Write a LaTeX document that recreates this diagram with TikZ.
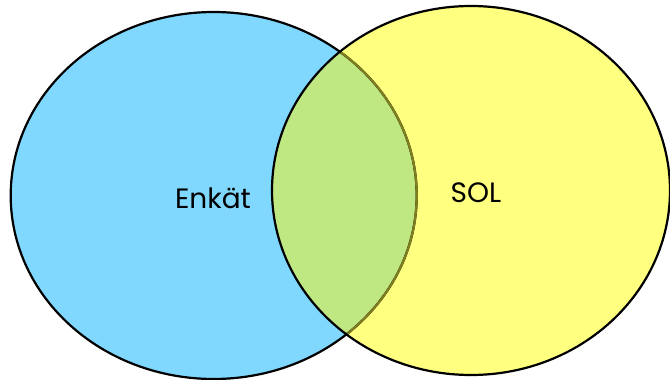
\documentclass[tikz,border=0pt]{standalone}
\usepackage{fontspec}
\setmainfont{Poppins}
\definecolor{setblue}{HTML}{80D8FF}
\definecolor{setyellow}{HTML}{FFFF80}
\definecolor{setboth}{HTML}{C0E882}
\definecolor{olive}{HTML}{7F7F20}
\begin{document}
\begin{tikzpicture}[x=1pt,y=-1pt,
  outline/.style={line width=2.2pt},
  lbl/.style={font=\fontsize{28}{32}\selectfont, text=black, inner sep=0pt, anchor=base}]
\useasboundingbox (0,0) rectangle (670,380);
\fill[white] (0,0) rectangle (670,380);
% fills
\fill[setblue] (213.7,195.5) ellipse [x radius=203, y radius=183.5];
\fill[setyellow] (471,190.5) ellipse [x radius=199, y radius=184.5];
\begin{scope}
  \clip (213.7,195.5) ellipse [x radius=203, y radius=183.5];
  \fill[setboth] (471,190.5) ellipse [x radius=199, y radius=184.5];
\end{scope}
% outlines
\draw[outline] (213.7,195.5) ellipse [x radius=203, y radius=183.5];
\begin{scope}
  \clip (471,190.5) ellipse [x radius=199, y radius=184.5];
  \draw[outline, olive] (213.7,195.5) ellipse [x radius=203, y radius=183.5];
\end{scope}
\draw[outline] (471,190.5) ellipse [x radius=199, y radius=184.5];
% labels
\node[lbl] (enkat) at (213,208) {Enkät};
\node[lbl] (sol) at (476,202.5) {SOL};
\end{tikzpicture}
\end{document}
